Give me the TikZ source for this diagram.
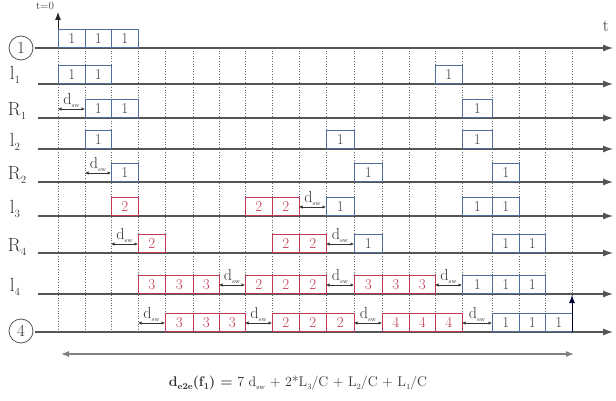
\documentclass[tikz,border=0pt]{standalone}
\usetikzlibrary{arrows.meta}
\definecolor{bl}{HTML}{4F6E9E}
\definecolor{rd}{HTML}{C23B55}
\definecolor{ax}{HTML}{555555}
\def\XS{{58,85,111,138,165,193,219,245,272,299,326,354,382,409,435,462,492,519,545,572}}
\tikzset{
 bluebox/.style={draw=bl, line width=0.8pt, text=black!75, inner sep=0pt, minimum height=18pt, font=\fontsize{15}{15}\selectfont},
 redbox/.style={bluebox, draw=rd, text=rd},
 axisline/.style={draw=ax, line width=1.1pt, -{Latex[length=10pt,width=7pt]}},
 dswarrow/.style={black!80, line width=0.7pt, {Latex[length=3.5pt,width=3.5pt]}-{Latex[length=3.5pt,width=3.5pt]}},
 dswlabel/.style={above, inner sep=1.5pt, font=\fontsize{16}{16}\selectfont, text=black!80},
 gridline/.style={black!60, dotted, line width=0.6pt},
 rowlabel/.style={font=\fontsize{19}{19}\selectfont, text=black!80},
 rowcircle/.style={draw=ax, circle, minimum size=24pt, inner sep=0pt, line width=0.8pt, font=\fontsize{17}{17}\selectfont, text=black!80},
}
\newcommand\bx[5]{\pgfmathsetmacro\xa{\XS[#2]}\pgfmathsetmacro\xb{\XS[#2+1]}\pgfmathsetmacro\ww{\xb-\xa}%
 \node[#4, minimum width=\ww pt, anchor=south west] (#1) at (\xa,#3) {#5};}
\newcommand\dsw[3]{\pgfmathsetmacro\xa{\XS[#2]}\pgfmathsetmacro\xb{\XS[#2+1]}%
 \coordinate (#1a) at (\xa,#3-9); \coordinate (#1b) at (\xb,#3-9);
 \draw[dswarrow] (#1a) -- node[dswlabel] (#1l) {d\raisebox{-3pt}{\fontsize{6}{6}\selectfont sw}} (#1b);}
\newcommand\sbs[1]{\raisebox{-4pt}{\fontsize{11}{11}\selectfont #1}}
\begin{document}
\begin{tikzpicture}[x=1pt,y=-1pt]
\useasboundingbox (0,0) rectangle (616,401);
% grid
\foreach \i in {0,...,19}{
  \pgfmathsetmacro\gx{\XS[\i]}
  \coordinate (gt\i) at (\gx,48); \coordinate (gb\i) at (\gx,332);
  \draw[gridline] (gt\i) -- (gb\i);
}
% row labels
\node[rowcircle] (c1) at (21,48) {1};
\node[rowlabel] (ll1) at (15,75) {l\sbs{1}};
\node[rowlabel] (lr1) at (17,111) {R\sbs{1}};
\node[rowlabel] (ll2) at (15,142) {l\sbs{2}};
\node[rowlabel] (lr2) at (17,175) {R\sbs{2}};
\node[rowlabel] (ll3) at (15,209) {l\sbs{3}};
\node[rowlabel] (lr4) at (17,247) {R\sbs{4}};
\node[rowlabel] (ll4) at (15,287) {l\sbs{4}};
\node[rowcircle] (c4) at (21,331) {4};
% axes
\foreach \n/\y/\s in {a1/48/35,a2/84/38,a3/118/38,a4/149/38,a5/182/38,a6/216/38,a7/253/38,a8/294/38,a9/332/35}{
  \coordinate (\n s) at (\s,\y); \coordinate (\n e) at (613,\y);
  \draw[axisline] (\n s) -- (\n e);
}
\coordinate (t0b) at (58,48); \coordinate (t0t) at (58,12);
\draw[draw=black!85, line width=0.9pt, -{Latex[length=8pt,width=6pt]}] (t0b) -- (t0t);
\node[font=\fontsize{11}{11}\selectfont, text=black!80, inner sep=0pt] (t0) at (45,6) {t=0};
\node[font=\fontsize{17}{17}\selectfont, text=black!80] (tl) at (606,26) {t};
% row 1
\bx{r1a}{0}{48}{bluebox}{1}\bx{r1b}{1}{48}{bluebox}{1}\bx{r1c}{2}{48}{bluebox}{1}
% l1
\bx{l1a}{0}{84}{bluebox}{1}\bx{l1b}{1}{84}{bluebox}{1}\bx{l1c}{14}{84}{bluebox}{1}
% R1
\dsw{d1}{0}{118}
\bx{R1a}{1}{118}{bluebox}{1}\bx{R1b}{2}{118}{bluebox}{1}\bx{R1c}{15}{118}{bluebox}{1}
% l2
\bx{l2a}{1}{149}{bluebox}{1}\bx{l2b}{10}{149}{bluebox}{1}\bx{l2c}{15}{149}{bluebox}{1}
% R2
\dsw{d2}{1}{182}
\bx{R2a}{2}{182}{bluebox}{1}\bx{R2b}{11}{182}{bluebox}{1}\bx{R2c}{16}{182}{bluebox}{1}
% l3
\bx{l3a}{2}{216}{redbox}{2}\bx{l3b}{7}{216}{redbox}{2}\bx{l3c}{8}{216}{redbox}{2}
\dsw{d3}{9}{216}
\bx{l3d}{10}{216}{bluebox}{1}\bx{l3e}{15}{216}{bluebox}{1}\bx{l3f}{16}{216}{bluebox}{1}
% R4
\dsw{d4}{2}{253}
\bx{R4a}{3}{253}{redbox}{2}\bx{R4b}{8}{253}{redbox}{2}\bx{R4c}{9}{253}{redbox}{2}
\dsw{d5}{10}{253}
\bx{R4d}{11}{253}{bluebox}{1}\bx{R4e}{16}{253}{bluebox}{1}\bx{R4f}{17}{253}{bluebox}{1}
% l4
\bx{l4a}{3}{294}{redbox}{3}\bx{l4b}{4}{294}{redbox}{3}\bx{l4c}{5}{294}{redbox}{3}
\dsw{d6}{6}{294}
\bx{l4d}{7}{294}{redbox}{2}\bx{l4e}{8}{294}{redbox}{2}\bx{l4f}{9}{294}{redbox}{2}
\dsw{d7}{10}{294}
\bx{l4g}{11}{294}{redbox}{3}\bx{l4h}{12}{294}{redbox}{3}\bx{l4i}{13}{294}{redbox}{3}
\dsw{d8}{14}{294}
\bx{l4j}{15}{294}{bluebox}{1}\bx{l4k}{16}{294}{bluebox}{1}\bx{l4l}{17}{294}{bluebox}{1}
% row 4
\dsw{d9}{3}{332}
\bx{r4a}{4}{332}{redbox}{3}\bx{r4b}{5}{332}{redbox}{3}\bx{r4c}{6}{332}{redbox}{3}
\dsw{d10}{7}{332}
\bx{r4d}{8}{332}{redbox}{2}\bx{r4e}{9}{332}{redbox}{2}\bx{r4f}{10}{332}{redbox}{2}
\dsw{d11}{11}{332}
\bx{r4g}{12}{332}{redbox}{4}\bx{r4h}{13}{332}{redbox}{4}\bx{r4i}{14}{332}{redbox}{4}
\dsw{d12}{15}{332}
\bx{r4j}{16}{332}{bluebox}{1}\bx{r4k}{17}{332}{bluebox}{1}\bx{r4l}{18}{332}{bluebox}{1}
% up arrow
\coordinate (upb) at (572,332); \coordinate (upt) at (572,295);
\draw[draw=black!80!blue, line width=1pt, -{Latex[length=8pt,width=6pt]}] (upb) -- (upt);
% total arrow
\coordinate (tot1) at (61,354); \coordinate (tot2) at (574,354);
\draw[draw=black!50, line width=1.2pt, {Latex[length=8pt,width=6pt]}-{Latex[length=8pt,width=6pt]}] (tot1) -- (tot2);
\node[font=\fontsize{14}{14}\selectfont, text=black!80] (form) at (298,383)
 {\textbf{d\raisebox{-3pt}{\fontsize{9}{9}\selectfont e2e}(f\raisebox{-3pt}{\fontsize{9}{9}\selectfont 1}) =} 7 d\raisebox{-3pt}{\fontsize{7}{7}\selectfont sw} + 2*L\raisebox{-3pt}{\fontsize{8}{8}\selectfont 3}/C + L\raisebox{-3pt}{\fontsize{8}{8}\selectfont 2}/C + L\raisebox{-3pt}{\fontsize{8}{8}\selectfont 1}/C};
\end{tikzpicture}
\end{document}
